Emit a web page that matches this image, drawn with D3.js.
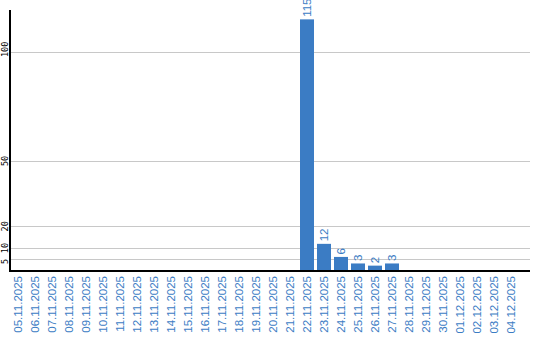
<!DOCTYPE html>
<html>
<head>
<meta charset="utf-8">
<script src="https://cdn.jsdelivr.net/npm/d3@7"></script>
<style>
  body { margin: 0; background: #fff; }
  svg { display: block; }
</style>
</head>
<body>
<div id="chart"></div>
<script>
const dates = [
  "05.11.2025", "06.11.2025", "07.11.2025", "08.11.2025", "09.11.2025",
  "10.11.2025", "11.11.2025", "12.11.2025", "13.11.2025", "14.11.2025",
  "15.11.2025", "16.11.2025", "17.11.2025", "18.11.2025", "19.11.2025",
  "20.11.2025", "21.11.2025", "22.11.2025", "23.11.2025", "24.11.2025",
  "25.11.2025", "26.11.2025", "27.11.2025", "28.11.2025", "29.11.2025",
  "30.11.2025", "01.12.2025", "02.12.2025", "03.12.2025", "04.12.2025"
];
const counts = [
  0, 0, 0, 0, 0, 0, 0, 0, 0, 0, 0, 0, 0, 0, 0, 0, 0,
  115, 12, 6, 3, 2, 3,
  0, 0, 0, 0, 0, 0, 0
];
const yTicks = [5, 10, 20, 50, 100];

const width = 540, height = 340;
const blue = "#3b7cc4";

const svg = d3.select("#chart")
    .append("svg")
    .attr("width", width)
    .attr("height", height);

const x = d3.scaleBand()
    .domain(dates)
    .range([9.5, 519.5])
    .paddingInner(0.18)
    .paddingOuter(0.09);

const y = d3.scaleLinear()
    .domain([0, 119.3])
    .range([270, 10]);

// gridlines
svg.append("g")
    .selectAll("line")
    .data(yTicks)
    .enter()
    .append("line")
    .attr("x1", 10)
    .attr("x2", 530)
    .attr("y1", d => Math.round(y(d)) + 0.5)
    .attr("y2", d => Math.round(y(d)) + 0.5)
    .attr("stroke", "#c8c8c8")
    .attr("stroke-width", 1);

// y tick labels (rotated)
svg.append("g")
    .selectAll("text")
    .data(yTicks)
    .enter()
    .append("text")
    .attr("transform", d => "translate(8," + (y(d) + 5) + ") rotate(-90)")
    .attr("text-anchor", "start")
    .attr("font-family", "DejaVu Sans Mono")
    .attr("font-size", "8.5px")
    .attr("fill", "#000")
    .text(d => d);

// bars
const data = dates.map((d, i) => ({ date: d, value: counts[i] }));

svg.append("g")
    .selectAll("rect")
    .data(data.filter(d => d.value > 0))
    .enter()
    .append("rect")
    .attr("x", d => Math.round(x(d.date)))
    .attr("y", d => y(d.value))
    .attr("width", Math.round(x.bandwidth()))
    .attr("height", d => y(0) - y(d.value) + 1)
    .attr("fill", blue);

// value labels
svg.append("g")
    .selectAll("text")
    .data(data.filter(d => d.value > 0))
    .enter()
    .append("text")
    .attr("transform", d => "translate(" + (x(d.date) + x.bandwidth() / 2 + 4) + "," + (y(d.value) - 2.5) + ") rotate(-90)")
    .attr("text-anchor", "start")
    .attr("font-family", "Liberation Sans")
    .attr("font-size", "11.5px")
    .attr("fill", blue)
    .text(d => d.value);

// axes lines
svg.append("line")
    .attr("x1", 10).attr("x2", 10)
    .attr("y1", 10).attr("y2", 272)
    .attr("stroke", "#000").attr("stroke-width", 2);

svg.append("line")
    .attr("x1", 9).attr("x2", 530)
    .attr("y1", 271).attr("y2", 271)
    .attr("stroke", "#000").attr("stroke-width", 2);

// x labels
svg.append("g")
    .selectAll("text")
    .data(dates)
    .enter()
    .append("text")
    .attr("transform", d => "translate(" + (x(d) + x.bandwidth() / 2 + 4) + ",276) rotate(-90)")
    .attr("text-anchor", "end")
    .attr("font-family", "Liberation Sans")
    .attr("font-size", "11.5px")
    .attr("fill", blue)
    .text(d => d);
</script>
</body>
</html>
